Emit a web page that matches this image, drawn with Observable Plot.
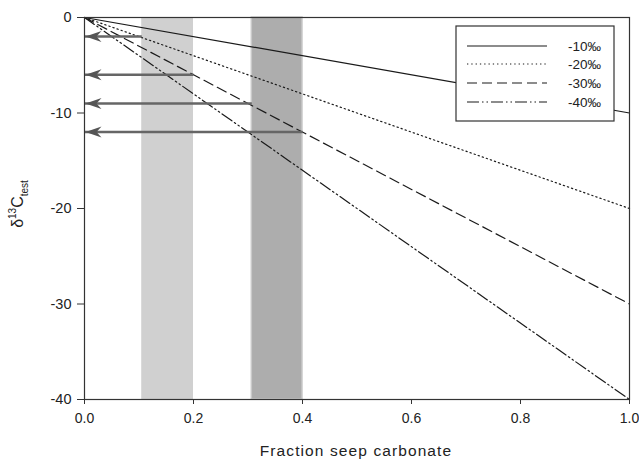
<!DOCTYPE html>
<html>
<head>
<meta charset="utf-8">
<script src="https://cdn.jsdelivr.net/npm/d3@7"></script>
<script src="https://cdn.jsdelivr.net/npm/@observablehq/plot@0.6"></script>
<style>
  html, body { margin: 0; padding: 0; background: #fff; }
  svg text { font-family: "Liberation Sans", Arial, sans-serif; }
</style>
</head>
<body>
<script>
// ---- data ----
const xTicks = [0, 0.2, 0.4, 0.6, 0.8, 1.0];
const yTicks = [0, -10, -20, -30, -40];
const seriesNames = ["-10‰", "-20‰", "-30‰", "-40‰"];
const fractionEnds = [0, 1];
const seriesStart = [0, 0, 0, 0];
const seriesEnd = [-10, -20, -30, -40];
const bandStart = [0.105, 0.307];
const bandEnd = [0.2, 0.4];
const bandNames = ["light", "dark"];
const arrowFromX = [0.105, 0.2, 0.307, 0.4];
const arrowToX = [0, 0, 0, 0];
const arrowY = [-2, -6, -9, -12];

// ---- styles ----
const dashes = ["none", "1.3,3", "10,5", "12,3,1.5,3,1.5,3"];
const bandFill = ["#d0d0d0", "#adadad"];

const lineData = seriesNames.map((name, i) =>
  fractionEnds.map((f, j) => ({series: name, x: f, y: j === 0 ? seriesStart[i] : seriesEnd[i]})));
const bands = bandNames.map((n, i) => ({name: n, x1: bandStart[i], x2: bandEnd[i], fill: bandFill[i]}));
const arrows = arrowY.map((y, i) => ({x1: arrowFromX[i], x2: arrowToX[i], y}));

const arrowHead = {
  draw(ctx) {
    ctx.moveTo(1, 0);
    ctx.lineTo(17, -5.5);
    ctx.lineTo(12, 0);
    ctx.lineTo(17, 5.5);
    ctx.closePath();
  }
};

const plot = Plot.plot({
  width: 639,
  height: 459,
  marginLeft: 84,
  marginRight: 10,
  marginTop: 17,
  marginBottom: 60,
  style: {fontFamily: "Liberation Sans, Arial, sans-serif", fontSize: "14px", color: "#222", background: "#fff"},
  x: {domain: [0, 1]},
  y: {domain: [-40, 0]},
  marks: [
    Plot.rect(bands, {x1: "x1", x2: "x2", y1: -40, y2: 0, fill: "fill"}),
    Plot.rect(bands.filter(d => d.name === "dark"), {x1: "x1", x2: "x2", y1: -40, y2: 0, fill: "none", stroke: "#c9c9c9", strokeWidth: 1.5}),
    ...lineData.map((d, i) => Plot.line(d, {x: "x", y: "y", stroke: "#1a1a1a", strokeWidth: 1.2, strokeDasharray: dashes[i]})),
    Plot.link(arrows, {x1: "x1", x2: "x2", y1: "y", y2: "y", stroke: "#666", strokeWidth: 2.5}),
    Plot.dot(arrows, {x: "x2", y: "y", symbol: arrowHead, fill: "#555", stroke: "none"}),
    Plot.frame({stroke: "#333", strokeWidth: 1.2}),
    Plot.axisX({ticks: xTicks, tickFormat: d3.format(".1f"), tickSize: 5, tickPadding: 9, label: null, stroke: "#333", fontSize: 14}),
    Plot.axisY({ticks: yTicks, tickFormat: d => String(d), tickSize: 7, tickPadding: 6, label: null, stroke: "#333", fontSize: 14.5})
  ]
});

document.body.appendChild(plot);
const svg = d3.select(plot);

// x axis title
svg.append("text")
  .attr("x", 356).attr("y", 456)
  .attr("text-anchor", "middle")
  .attr("font-size", 15.5)
  .attr("letter-spacing", 1.1)
  .attr("fill", "#222")
  .text("Fraction seep carbonate");

// y axis title
const yl = svg.append("text")
  .attr("transform", "translate(23,204) rotate(-90)")
  .attr("text-anchor", "middle")
  .attr("font-size", 16)
  .attr("fill", "#222");
yl.append("tspan").text("δ");
yl.append("tspan").attr("font-size", 10).attr("dy", -7).text("13");
yl.append("tspan").attr("dy", 7).text("C");
yl.append("tspan").attr("font-size", 10).attr("dy", 5).text("test");

// legend
const lg = svg.append("g").attr("text-anchor", "start");
lg.append("rect").attr("x", 456).attr("y", 26).attr("width", 158).attr("height", 95)
  .attr("fill", "#fff").attr("stroke", "#333").attr("stroke-width", 1.2);
const rowY = [46, 64, 83, 102];
seriesNames.forEach((name, i) => {
  lg.append("line").attr("x1", 467).attr("x2", 547).attr("y1", rowY[i]).attr("y2", rowY[i])
    .attr("stroke", "#1a1a1a").attr("stroke-width", 1.2)
    .attr("stroke-dasharray", dashes[i] === "none" ? null : dashes[i]);
  lg.append("text").attr("x", 568).attr("y", rowY[i] + 5).attr("font-size", 13.5)
    .attr("text-anchor", "start")
    .attr("fill", "#222").text(name);
});
</script>
</body>
</html>
